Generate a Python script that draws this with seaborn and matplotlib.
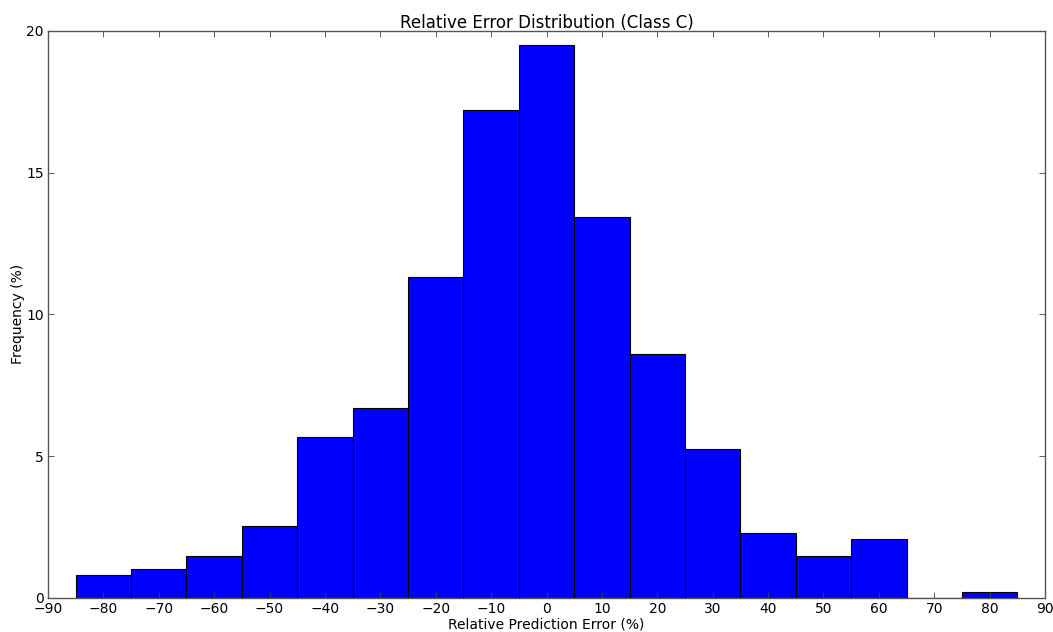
#!/usr/bin/env python3

from matplotlib import pyplot as plt
import numpy as np
import pandas as pd
import seaborn as sns

plt.rcParams['font.family'] = 'DejaVu Sans'
plt.rcParams['text.color'] = 'black'

# bin centres (%) and frequency (%) per bin
centres = [-80, -70, -60, -50, -40, -30, -20, -10, 0, 10, 20, 30, 40, 50, 60, 70, 80]
freq = [0.82, 1.03, 1.46, 2.52, 5.66, 6.69, 11.32, 17.22, 19.52, 13.44,
        8.59, 5.24, 2.30, 1.47, 2.07, 0.0, 0.19]

df = pd.DataFrame({'err': centres, 'freq': freq})

fig, ax = plt.subplots(figsize=(10.53, 6.32), dpi=100)

sns.histplot(data=df, x='err', weights='freq', binwidth=10, binrange=(-85, 85),
             ax=ax, color='#0000ff', alpha=1.0, edgecolor='black', linewidth=0.8)

ax.set_xlim(-90, 90)
ax.set_ylim(0, 20)
ax.set_xticks(np.arange(-90, 91, 10))
ax.set_yticks([0, 5, 10, 15, 20])
ax.set_title('Relative Error Distribution (Class C)', fontsize=12, pad=2)
ax.set_xlabel('Relative Prediction Error (%)', fontsize=10, labelpad=1)
ax.set_ylabel('Frequency (%)', fontsize=10, labelpad=1)
ax.tick_params(direction='in', top=True, right=True, length=4, width=0.6,
               labelsize=10, pad=3, color='#444444', labelcolor='black')
for s in ax.spines.values():
    s.set_color('#555555')
    s.set_linewidth(1.0)

plt.subplots_adjust(left=0.0456, right=0.9924, top=0.951, bottom=0.054)
plt.savefig('out.png')
